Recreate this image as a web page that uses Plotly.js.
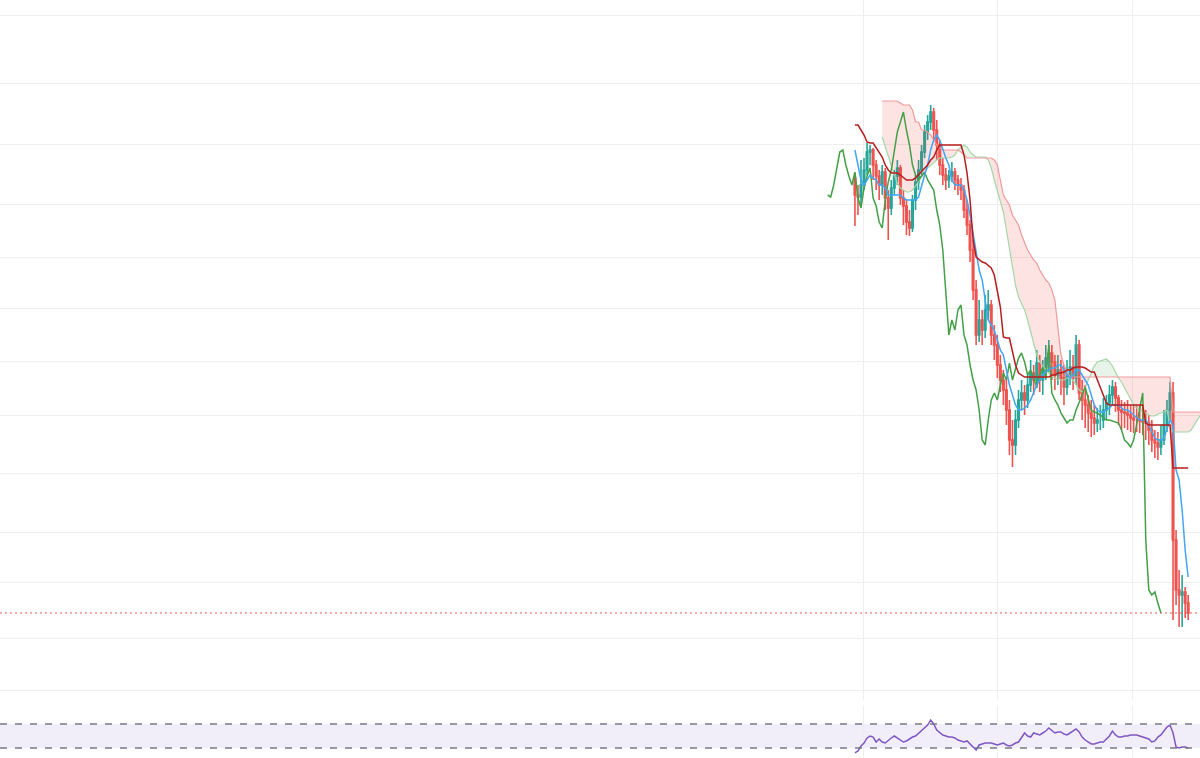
<!DOCTYPE html>
<html>
<head>
<meta charset="utf-8">
<script src="https://cdn.plot.ly/plotly-3.0.1.min.js"></script>
<style>html,body{margin:0;padding:0;background:#fff;}#chart{width:1200px;height:758px;}</style>
</head>
<body>
<div id="chart"></div>
<script>
// ---- candle data (price units) ----
const openP = [522,505,503,515,530,548,550,535,524,515,
528,502,492,512,524,532,502,494,478,472,
500,518,530,548,568,578,588,570,555,535,
525,520,524,528,520,515,510,490,475,450,
410,365,380,370,390,395,365,355,335,320,
310,290,260,255,280,300,307,300,315,327,
320,337,320,330,342,347,338,325,330,322,
313,325,333,322,355,307,300,295,287,282,
277,280,280,290,297,305,313,302,290,288,
287,285,282,280,280,279,278,277,270,260,
257,253,260,275,290,307,160,110,105,108,97];
const closeP = [505,503,515,530,548,550,535,524,515,528,
502,492,512,524,532,502,494,478,472,500,
518,530,548,568,578,588,570,555,535,525,
520,524,528,520,515,510,490,475,450,410,
365,380,370,390,395,365,355,335,320,310,
290,260,255,280,300,307,300,315,327,320,
337,320,330,342,347,338,325,330,322,313,
325,333,322,355,307,300,295,287,282,277,
280,280,290,297,305,313,302,290,288,287,
285,282,280,280,279,278,277,270,260,257,
253,260,275,290,307,160,110,105,108,97,87];
const highP = [527,515,540,542,557,555,552,540,530,535,
532,510,520,530,540,535,510,500,490,505,
525,540,555,575,585,595,592,580,560,542,
532,530,538,532,525,522,515,500,480,460,
420,400,390,405,410,400,375,365,345,330,
320,300,280,290,310,320,315,325,340,335,
350,345,340,355,360,355,345,345,340,335,
340,350,345,365,360,320,315,305,300,295,
292,295,302,305,315,320,318,305,300,298,
300,295,295,294,295,292,290,285,280,270,
268,275,290,300,318,318,170,130,125,113,105];
const lowP = [474,485,495,510,525,535,520,510,500,505,
490,460,485,505,515,495,475,465,464,468,
490,510,525,542,560,570,560,540,525,515,
510,512,518,510,505,500,482,465,438,400,
355,358,355,362,380,355,340,322,308,295,
275,245,233,245,272,290,285,292,308,305,
312,308,305,320,328,320,310,315,305,295,
305,315,310,315,300,280,272,268,263,265,
268,270,272,280,285,295,288,275,270,272,
270,268,267,268,267,265,260,255,248,242,
240,245,255,268,280,80,95,73,73,82,80];

// ---- Ichimoku lines ----
const tenkan = [550,535,520,515,520,525,522,520,515,515,
512,505,505,505,505,505,502,500,500,500,
500,503,515,525,535,550,560,565,560,550,
542,535,520,515,515,515,510,500,485,465,
445,430,420,400,380,375,370,360,350,345,
330,315,305,295,290,290,292,295,300,308,
315,320,325,328,330,332,332,335,335,330,
325,322,325,330,330,325,320,315,305,295,
290,288,288,290,292,295,295,295,292,290,
290,288,285,282,280,280,280,275,268,262,
260,260,262,272,280,275,230,220,190,150,123];
const kijun = [575,575,570,565,558,557,557,552,548,543,
535,530,527,527,527,525,522,520,520,520,
522,525,528,532,535,540,543,550,555,555,
555,555,555,555,555,555,545,527,500,460,
443,440,438,437,434,432,425,410,393,363,
362,362,350,335,327,325,323,323,323,323,
323,323,323,323,323,325,325,327,327,328,
330,330,332,333,333,333,332,330,328,328,
320,313,305,297,295,295,295,295,295,295,
295,295,295,295,295,295,277,275,275,275,
275,275,275,275,275,232,232,232,232,232,232];
const senkouA = [563,553,543,535,525,517,512,510,508,508,
510,514,518,522,527,532,535,538,540,542,
542,542,542,543,545,550,553,555,553,548,
545,543,543,543,543,540,532,520,510,500,
488,470,450,435,415,403,397,390,380,368,
355,345,338,334,330,327,324,322,320,320,
320,322,322,320,315,310,308,312,320,328,
334,338,339,340,341,338,334,328,322,318,
312,307,300,295,292,290,288,287,285,284,
284,286,287,288,290,275,268,268,268,268,
268,268,270,275,280,285,288,288,288,288,288];
const senkouB = [599,599,599,599,599,599,597,595,595,595,
590,578,578,570,570,568,565,560,555,552,
550,550,550,550,550,550,548,545,542,542,
542,542,542,542,542,542,542,540,535,520,
505,500,495,485,480,475,465,457,450,445,
440,437,430,425,420,417,410,400,370,345,
335,328,323,323,323,323,323,323,323,323,
323,323,323,323,323,323,323,323,323,323,
323,323,323,323,323,323,323,323,323,323,
323,323,323,323,323,323,288,288,288,288,
288,288,288,288,288,288,288,288,288,288,288];
const SHIFT = 9;

// ---- RSI ----
const rsi = [21.7,25,33.3,38.3,46.7,50,48.3,40,45,40,
38.3,43.3,46.7,50,46.7,43.3,40,41.7,45,48.3,
50,55,58.3,63.3,68.3,76.7,70,60,55,51.7,
50,48.3,48.3,46.7,43.3,41.7,40,41.7,36.7,31.7,
26.7,35,36.7,38.3,38.3,38.3,36.7,35,36.7,38.3,
35,33.3,35,38.3,40,46.7,55,50,48.3,55,
53.3,51.7,55,58.3,63.3,58.3,55,56.7,56.7,53.3,
51.7,55,58.3,61.7,56.7,48.3,43.3,40,36.7,36.7,
38.3,40,40,45,50,58.3,51.7,48.3,48.3,50,
50,51.7,51.7,51.7,50,48.3,46.7,45,40,41.7,
48.3,51.7,58.3,65,68.3,55,31.7,30,31.7,31.7,30];
const rsiLevels = [30, 70];

// ---- grid positions ----
const xGrid = [2.8, 47.0, 91.7];
const yGrid = [684.5, 617, 555.5, 496, 443, 392, 339, 285, 227, 168, 118, 62, 10];

const idx = closeP.map((_, i) => i);
const traces = [];

// cloud fill segments
(function () {
  const xs = senkouA.map((_, j) => j + SHIFT);
  const up = k => senkouA[k] >= senkouB[k];
  let start = 0;
  for (let k = 1; k <= xs.length; k++) {
    if (k === xs.length || up(k) !== up(start)) {
      const end = Math.min(k, xs.length - 1);
      const seg = [];
      for (let m = start; m <= end; m++) seg.push(m);
      const rev = seg.slice().reverse();
      traces.push({
        type: 'scatter', mode: 'lines', x: seg.map(m => xs[m]).concat(rev.map(m => xs[m])),
        y: seg.map(m => senkouA[m]).concat(rev.map(m => senkouB[m])),
        fill: 'toself', fillcolor: up(start) ? 'rgba(67,160,71,0.12)' : 'rgba(244,67,54,0.14)',
        line: {width: 0}, hoverinfo: 'skip', xaxis: 'x', yaxis: 'y'
      });
      start = k;
    }
  }
})();

traces.push({type:'scatter', mode:'lines', x: idx.map(i => i + SHIFT), y: senkouA,
  line:{color:'#a5d6a7', width:1.2}, hoverinfo:'skip'});
traces.push({type:'scatter', mode:'lines', x: idx.map(i => i + SHIFT), y: senkouB,
  line:{color:'#ef9a9a', width:1.2}, hoverinfo:'skip'});
traces.push({type:'scatter', mode:'lines', x: idx.map(i => i - SHIFT), y: closeP,
  line:{color:'#43a047', width:1.5}, hoverinfo:'skip'});
traces.push({type:'scatter', mode:'lines', x: idx, y: tenkan,
  line:{color:'#42a5f5', width:1.5}, hoverinfo:'skip'});
traces.push({type:'candlestick', x: idx, open: openP, high: highP, low: lowP, close: closeP,
  increasing:{line:{color:'#26a69a', width:1.6}, fillcolor:'#26a69a'},
  decreasing:{line:{color:'#ef5350', width:1.6}, fillcolor:'#ef5350'},
  whiskerwidth: 0, hoverinfo:'skip', xaxis:'x', yaxis:'y'});
traces.push({type:'scatter', mode:'lines', x: idx, y: kijun,
  line:{color:'#b71c1c', width:1.5}, hoverinfo:'skip'});
traces.push({type:'scatter', mode:'lines', x: idx, y: rsi, xaxis:'x', yaxis:'y2',
  line:{color:'#7e57c2', width:1.5}, hoverinfo:'skip'});

const lastClose = closeP[closeP.length - 1];
const layout = {
  width: 1200, height: 758,
  margin: {l:0, r:0, t:0, b:0},
  paper_bgcolor: '#ffffff', plot_bgcolor: '#ffffff',
  showlegend: false,
  xaxis: {range:[-282.2, 113.9], tickvals: xGrid, showticklabels:false, showgrid:true,
    gridcolor:'#eeeeee', gridwidth:1, zeroline:false, showline:false, anchor:'y2',
    rangeslider:{visible:false}, fixedrange:true},
  yaxis: {domain:[0.0765, 1], range:[0, 700], tickvals: yGrid, showticklabels:false,
    showgrid:true, gridcolor:'#eeeeee', gridwidth:1, zeroline:false, showline:false},
  yaxis2: {domain:[0, 0.0686], range:[13.33, 100], showgrid:false, showticklabels:false,
    zeroline:false, showline:false},
  shapes: [
    {type:'rect', xref:'paper', x0:0, x1:1, yref:'y2', y0:rsiLevels[0], y1:rsiLevels[1],
      fillcolor:'rgba(126,87,194,0.1)', line:{width:0}, layer:'below'},
    {type:'line', xref:'paper', x0:0, x1:1, yref:'y2', y0:rsiLevels[0], y1:rsiLevels[0],
      line:{color:'#787b86', width:1.3, dash:'7px,8px'}},
    {type:'line', xref:'paper', x0:0, x1:1, yref:'y2', y0:rsiLevels[1], y1:rsiLevels[1],
      line:{color:'#787b86', width:1.3, dash:'7px,8px'}},
    {type:'line', xref:'paper', x0:0, x1:1, yref:'y', y0:lastClose, y1:lastClose,
      line:{color:'#ef5350', width:1, dash:'2px,3px'}}
  ]
};
Plotly.newPlot('chart', traces, layout, {displayModeBar:false, staticPlot:true});
</script>
</body>
</html>
